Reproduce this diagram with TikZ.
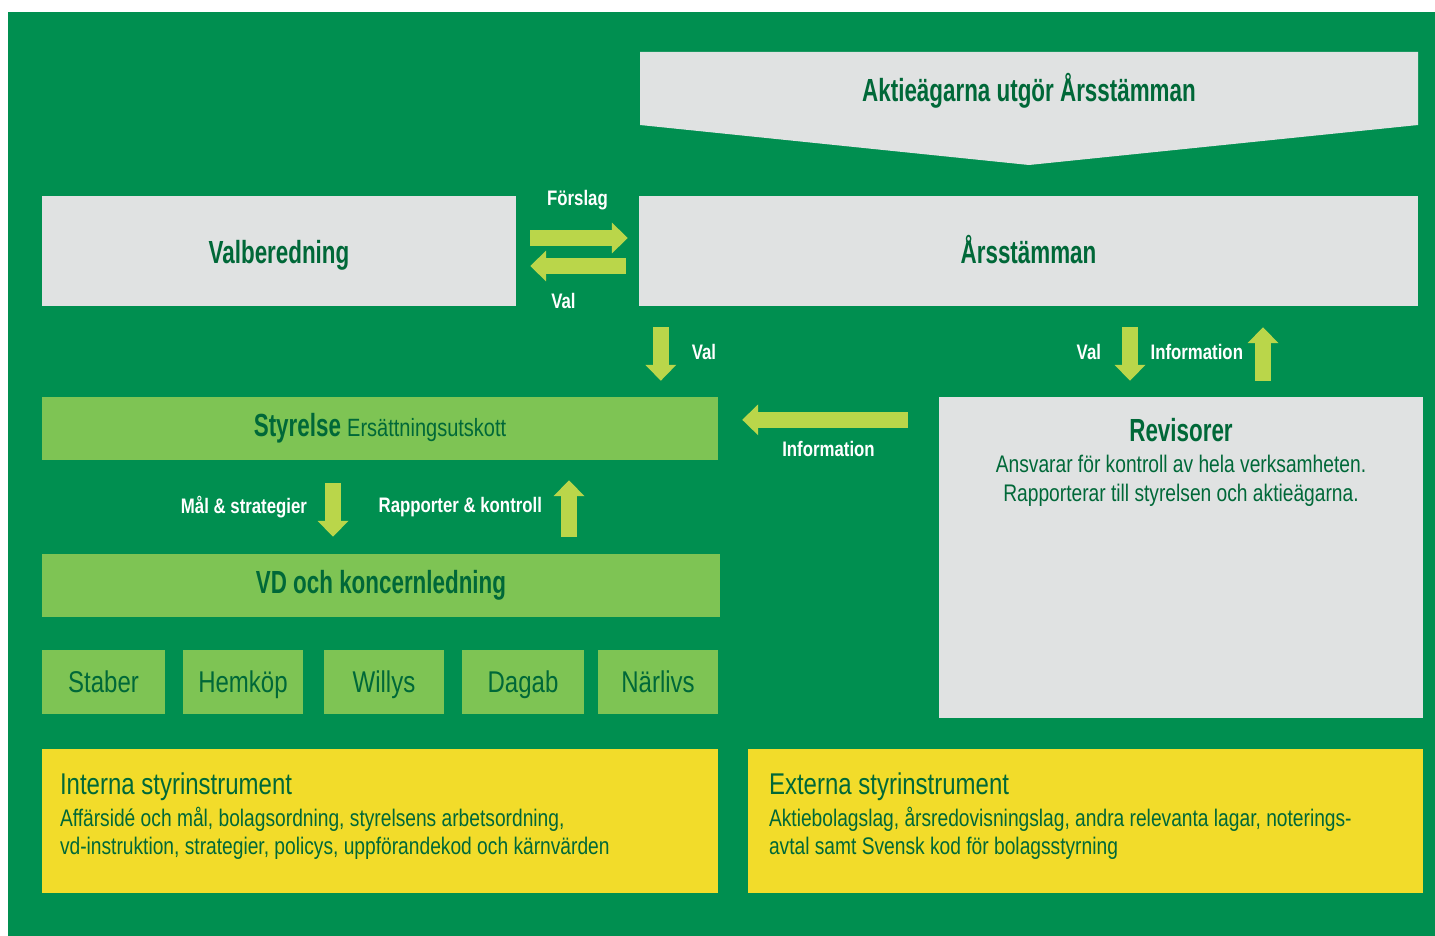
\documentclass[tikz,border=0pt]{standalone}
\usepackage{fontspec}
\setmainfont{Liberation Sans}[FakeStretch=0.8]
\newfontfamily\headfont{Liberation Sans}[FakeStretch=0.7]
\usetikzlibrary{arrows.meta,positioning}

\definecolor{bggreen}{RGB}{0,143,80}
\definecolor{boxgrey}{RGB}{224,226,226}
\definecolor{boxgreen}{RGB}{126,196,84}
\definecolor{arrowgreen}{RGB}{186,214,74}
\definecolor{boxyellow}{RGB}{242,220,42}
\definecolor{textgreen}{RGB}{0,104,56}

\begin{document}
\begin{tikzpicture}[x=1pt, y=-1pt,
    greybox/.style={fill=boxgrey, minimum height=110pt, inner sep=0pt, text height=30pt, text depth=6pt, text=textgreen, font=\headfont\bfseries\fontsize{32}{36}\selectfont},
    greenbox/.style={fill=boxgreen, minimum height=63pt, inner sep=0pt, text=textgreen, font=\headfont\bfseries\fontsize{32}{36}\selectfont},
    unitbox/.style={fill=boxgreen, minimum height=64pt, inner sep=0pt, text height=26pt, text depth=6pt, text=textgreen, font=\fontsize{30}{34}\selectfont},
    yellowbox/.style={fill=boxyellow, minimum width=676pt, minimum height=144pt, inner sep=0pt},
    fatarrow/.style={draw=arrowgreen, line width=16pt, -{Triangle[width=30pt,length=16pt]}},
    lbl/.style={text=white, inner sep=0pt, font=\bfseries\fontsize{21}{24}\selectfont}]

    \useasboundingbox (0,0) rectangle (1435,936);
    \fill[white] (0,0) rectangle (1435,936);
    \fill[bggreen] (8,12) rectangle (1435,936);

    % top chevron
    \fill[boxgrey] (640,52) -- (1418,52) -- (1418,125) -- (1029,165) -- (640,125) -- cycle;
    \node[text=textgreen, font=\headfont\bfseries\fontsize{32}{36}\selectfont] (aktie) at (1029,91) {Aktieägarna utgör Årsstämman};

    \node[greybox, minimum width=474pt] (valb) at (279,251) {Valberedning};
    \node[greybox, minimum width=779pt] (ars) at (1028.5,251) {Årsstämman};

    \node[greenbox, minimum width=676pt] (sty) at (380,428.5) {Styrelse {\rmfamily\mdseries\fontsize{25}{28}\selectfont Ersättningsutskott}};
    \node[greenbox, minimum width=678pt] (vd) at (381,585.5) {VD och koncernledning};

    \node[fill=boxgrey, minimum width=484pt, minimum height=321pt] (rev) at (1181,557.5) {};
    \node[below=21pt of rev.north, inner sep=0pt, align=center, text=textgreen, font=\fontsize{24}{29}\selectfont] (revtext)
        {{\headfont\bfseries\fontsize{32}{34}\selectfont Revisorer}\\[2pt]
         Ansvarar för kontroll av hela verksamheten.\\
         Rapporterar till styrelsen och aktieägarna.};

    \node[unitbox, minimum width=123pt] (staber) at (103.5,682) {Staber};
    \node[unitbox, minimum width=120pt] (hemkop) at (243,682) {Hemköp};
    \node[unitbox, minimum width=120pt] (willys) at (384,682) {Willys};
    \node[unitbox, minimum width=122pt] (dagab) at (523,682) {Dagab};
    \node[unitbox, minimum width=120pt] (narlivs) at (658,682) {Närlivs};

    \node[yellowbox] (intern) at (380,821) {};
    \node[yellowbox, minimum width=675pt] (extern) at (1085.5,821) {};
    \node[anchor=north west, inner sep=0pt, align=left, text=textgreen, font=\fontsize{24}{28}\selectfont] (interntext)
        at ([xshift=18pt, yshift=-24pt]intern.north west)
        {{\fontsize{30}{33}\selectfont Interna styrinstrument}\\[4pt]
         Affärsidé och mål, bolagsordning, styrelsens arbetsordning,\\
         vd-instruktion, strategier, policys, uppförandekod och kärnvärden};
    \node[anchor=north west, inner sep=0pt, align=left, text=textgreen, font=\fontsize{24}{28}\selectfont] (externtext)
        at ([xshift=21pt, yshift=-24pt]extern.north west)
        {{\fontsize{30}{33}\selectfont Externa styrinstrument}\\[4pt]
         Aktiebolagslag, årsredovisningslag, andra relevanta lagar, noterings-\\
         avtal samt Svensk kod för bolagsstyrning};

    \draw[fatarrow, shorten <=14pt, shorten >=11pt] ([yshift=13pt]valb.east) -- ([yshift=13pt]valb.east -| ars.west)
        node[lbl, midway, above=20pt] {Förslag};
    \draw[fatarrow, shorten <=13pt, shorten >=14pt] ([yshift=-15pt]ars.west) -- ([yshift=-15pt]ars.west -| valb.east)
        node[lbl, midway, below=19pt, xshift=-14pt] {Val};

    \draw[fatarrow, shorten <=21pt, shorten >=16pt] ([xshift=22pt]ars.south west) -- ([xshift=22pt]ars.south west |- sty.north)
        node[lbl, midway, right=23pt] {Val};
    \draw[fatarrow, shorten <=21pt, shorten >=16pt] ([xshift=-51pt]rev.north |- ars.south) -- ([xshift=-51pt]rev.north)
        node[lbl, midway, left=21pt] {Val};
    \draw[fatarrow, shorten <=16pt, shorten >=21pt] ([xshift=82pt]rev.north) -- ([xshift=82pt]rev.north |- ars.south)
        node[lbl, midway, left=12pt] {Information};

    \draw[fatarrow, shorten <=31pt, shorten >=24pt] ([yshift=-23pt]rev.north west) -- ([yshift=-23pt]rev.north west -| sty.east)
        node[lbl, midway, below=13pt] {Information};

    \draw[fatarrow, shorten <=23pt, shorten >=17pt] ([xshift=-47pt]sty.south) -- ([xshift=-47pt]sty.south |- vd.north)
        node[lbl, midway, left=18pt] {Mål \& strategier};
    \draw[fatarrow, shorten <=17pt, shorten >=20pt] ([xshift=188pt]vd.north) -- ([xshift=188pt]vd.north |- sty.south)
        node[lbl, midway, left=19pt] {Rapporter \& kontroll};
\end{tikzpicture}
\end{document}
